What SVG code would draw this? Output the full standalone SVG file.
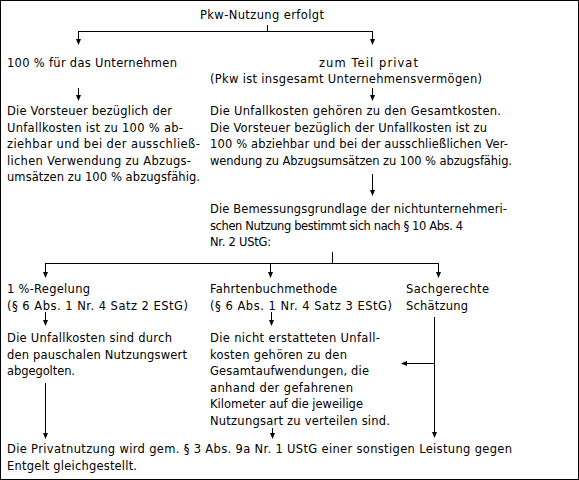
<svg xmlns="http://www.w3.org/2000/svg" width="579" height="480" viewBox="0 0 579 480">
<style>
text{font-family:"DejaVu Sans",Verdana,sans-serif;font-size:11.5px;fill:#000}
.c{fill:none;stroke:#000;stroke-width:1}
</style>
<defs>
<marker id="a" markerWidth="6" markerHeight="7" refX="5" refY="3" orient="auto" markerUnits="userSpaceOnUse"><path d="M0,0.5 L6,3 L0,5.5Z" fill="#000"/></marker>
</defs>
<rect x="0.5" y="0.5" width="578" height="479" fill="#fff" stroke="#000"/>
<g id="n0"><text x="200" y="19" textLength="124" lengthAdjust="spacing">Pkw-Nutzung erfolgt</text></g>
<g id="n1"><text x="7" y="67" textLength="170" lengthAdjust="spacing">100 % für das Unternehmen</text></g>
<g id="n2"><text x="319" y="67" textLength="99" lengthAdjust="spacing">zum Teil privat</text><text x="210" y="83" textLength="272" lengthAdjust="spacing">(Pkw ist insgesamt Unternehmensvermögen)</text></g>
<g id="n3"><text x="7" y="115" textLength="165" lengthAdjust="spacing">Die Vorsteuer bezüglich der</text><text x="7" y="131.5" textLength="176" lengthAdjust="spacing">Unfallkosten ist zu 100 % ab-</text><text x="7" y="148" textLength="193" lengthAdjust="spacing">ziehbar und bei der ausschließ-</text><text x="7" y="164.5" textLength="184" lengthAdjust="spacing">lichen Verwendung zu Abzugs-</text><text x="7" y="181" textLength="193" lengthAdjust="spacing">umsätzen zu 100 % abzugsfähig.</text></g>
<g id="n4"><text x="210" y="115" textLength="291" lengthAdjust="spacing">Die Unfallkosten gehören zu den Gesamtkosten.</text><text x="210" y="131.5" textLength="277" lengthAdjust="spacing">Die Vorsteuer bezüglich der Unfallkosten ist zu</text><text x="210" y="148" textLength="298" lengthAdjust="spacing">100 % abziehbar und bei der ausschließlichen Ver-</text><text x="210" y="164.5" textLength="302" lengthAdjust="spacing">wendung zu Abzugsumsätzen zu 100 % abzugsfähig.</text></g>
<g id="n5"><text x="210" y="213" textLength="297" lengthAdjust="spacing">Die Bemessungsgrundlage der nichtunternehmeri-</text><text x="210" y="229.5" textLength="253" lengthAdjust="spacing">schen Nutzung bestimmt sich nach § 10 Abs. 4</text><text x="210" y="246" textLength="61" lengthAdjust="spacing">Nr. 2 UStG:</text></g>
<g id="n6"><text x="7" y="293" textLength="83" lengthAdjust="spacing">1 %-Regelung</text><text x="7" y="309.5" textLength="181" lengthAdjust="spacing">(§ 6 Abs. 1 Nr. 4 Satz 2 EStG)</text></g>
<g id="n7"><text x="210" y="293" textLength="127" lengthAdjust="spacing">Fahrtenbuchmethode</text><text x="210" y="309.5" textLength="182" lengthAdjust="spacing">(§ 6 Abs. 1 Nr. 4 Satz 3 EStG)</text></g>
<g id="n8"><text x="406" y="293" textLength="83" lengthAdjust="spacing">Sachgerechte</text><text x="406" y="309.5" textLength="62" lengthAdjust="spacing">Schätzung</text></g>
<g id="n9"><text x="7" y="342" textLength="165" lengthAdjust="spacing">Die Unfallkosten sind durch</text><text x="7" y="358.5" textLength="180" lengthAdjust="spacing">den pauschalen Nutzungswert</text><text x="7" y="375" textLength="68" lengthAdjust="spacing">abgegolten.</text></g>
<g id="n10"><text x="210" y="342" textLength="170" lengthAdjust="spacing">Die nicht erstatteten Unfall-</text><text x="210" y="358.5" textLength="137" lengthAdjust="spacing">kosten gehören zu den</text><text x="210" y="375" textLength="159" lengthAdjust="spacing">Gesamtaufwendungen, die</text><text x="210" y="391.5" textLength="143" lengthAdjust="spacing">anhand der gefahrenen</text><text x="210" y="408" textLength="153" lengthAdjust="spacing">Kilometer auf die jeweilige</text><text x="210" y="424.5" textLength="180" lengthAdjust="spacing">Nutzungsart zu verteilen sind.</text></g>
<g id="n11"><text x="7" y="453" textLength="505" lengthAdjust="spacing">Die Privatnutzung wird gem. § 3 Abs. 9a Nr. 1 UStG einer sonstigen Leistung gegen</text><text x="7" y="469.5" textLength="130" lengthAdjust="spacing">Entgelt gleichgestellt.</text></g>
<g id="connectors">
<path class="c" d="M267.5,25 V31.5 M78.5,31.5 H372.5"/>
<path class="c" d="M78.5,31 V44" marker-end="url(#a)"/>
<path class="c" d="M372.5,31 V44" marker-end="url(#a)"/>
<path class="c" d="M78.5,88 V100" marker-end="url(#a)"/>
<path class="c" d="M372.5,88 V100" marker-end="url(#a)"/>
<path class="c" d="M372.5,174 V195" marker-end="url(#a)"/>
<path class="c" d="M332.5,252 V263.5 M45.5,263.5 H438.5"/>
<path class="c" d="M45.5,263 V277" marker-end="url(#a)"/>
<path class="c" d="M270.5,263 V277" marker-end="url(#a)"/>
<path class="c" d="M438.5,263 V277" marker-end="url(#a)"/>
<path class="c" d="M45.5,312 V325" marker-end="url(#a)"/>
<path class="c" d="M271.5,312 V325" marker-end="url(#a)"/>
<path class="c" d="M434.5,317 V437" marker-end="url(#a)"/>
<path class="c" d="M434.5,363.5 H402" marker-end="url(#a)"/>
<path class="c" d="M45.5,383 V438" marker-end="url(#a)"/>
<path class="c" d="M272.5,428 V438" marker-end="url(#a)"/>
</g>
</svg>
